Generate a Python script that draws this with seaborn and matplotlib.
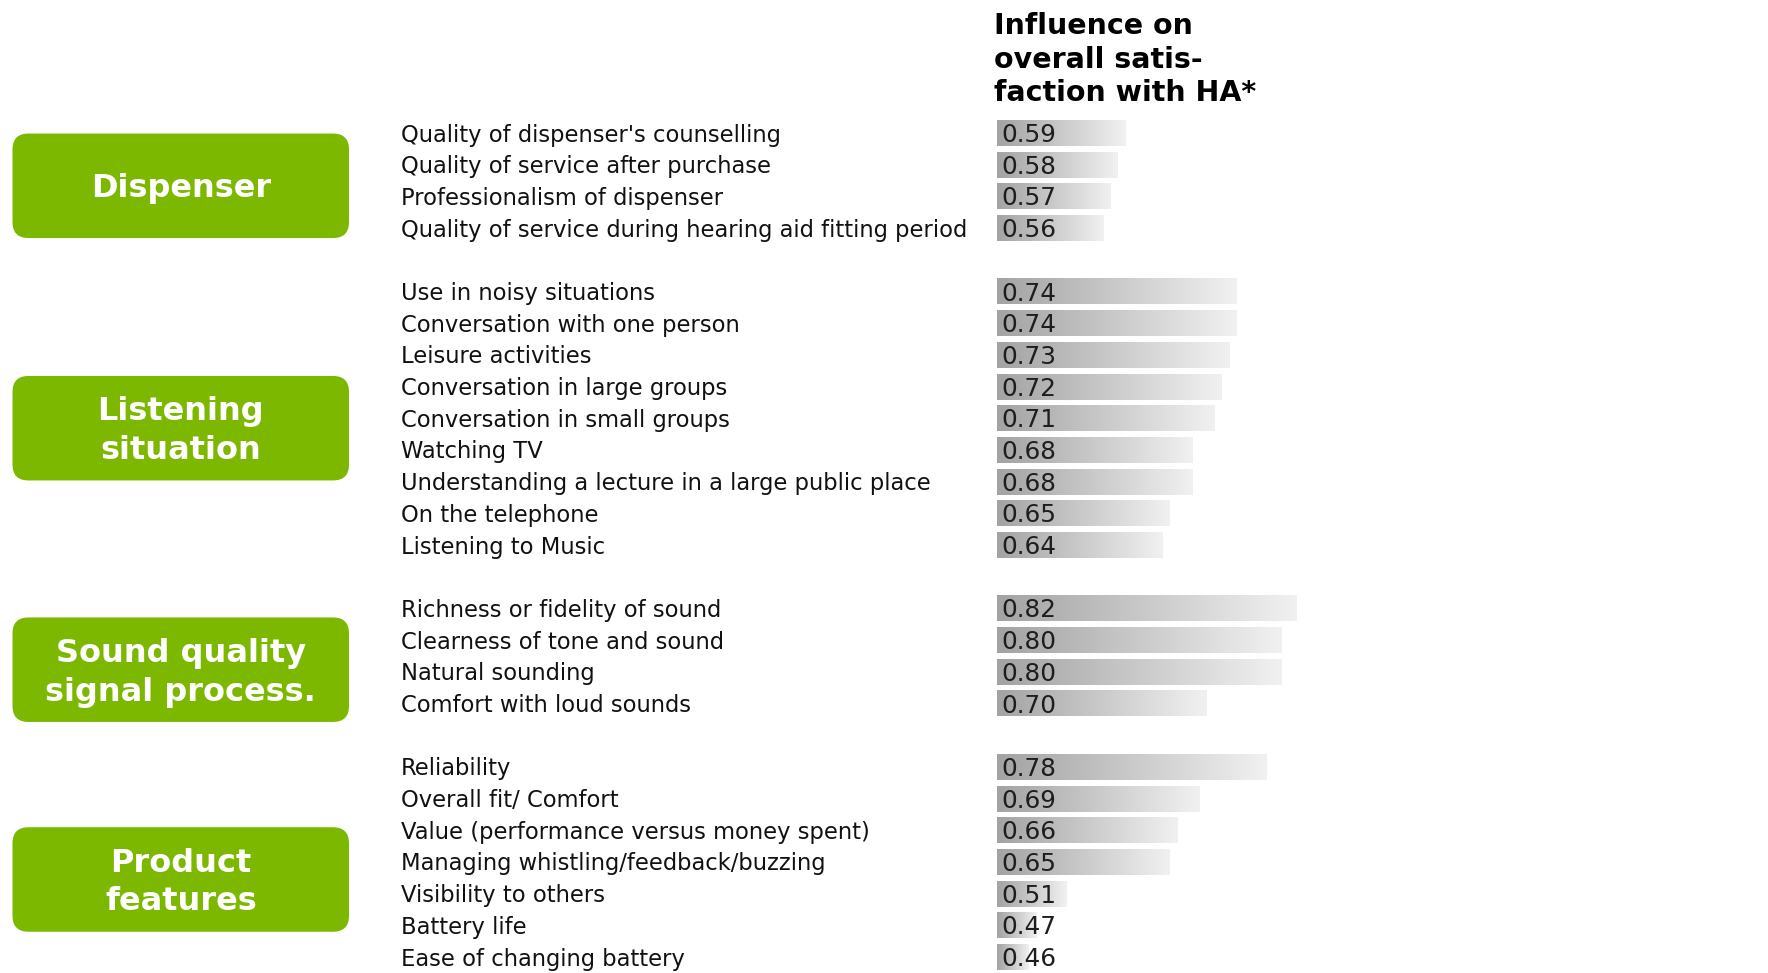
"""
Influence of single attributes on overall satisfaction with hearing aids
horizontal gradient bars grouped by category
"""

import numpy as np
import pandas as pd
import matplotlib
matplotlib.use('Agg')
import matplotlib.pyplot as plt
from matplotlib.colors import LinearSegmentedColormap
from matplotlib.patches import FancyBboxPatch
from matplotlib import transforms
import seaborn as sns

# ============================================
# DATA
# ============================================
groups = ['Dispenser', 'Listening\nsituation', 'Sound quality\nsignal process.', 'Product\nfeatures']

dispenser_items = ["Quality of dispenser's counselling",
                   "Quality of service after purchase",
                   "Professionalism of dispenser",
                   "Quality of service during hearing aid fitting period"]
dispenser_values = [0.59, 0.58, 0.57, 0.56]

listening_items = ["Use in noisy situations",
                   "Conversation with one person",
                   "Leisure activities",
                   "Conversation in large groups",
                   "Conversation in small groups",
                   "Watching TV",
                   "Understanding a lecture in a large public place",
                   "On the telephone",
                   "Listening to Music"]
listening_values = [0.74, 0.74, 0.73, 0.72, 0.71, 0.68, 0.68, 0.65, 0.64]

sound_items = ["Richness or fidelity of sound",
               "Clearness of tone and sound",
               "Natural sounding",
               "Comfort with loud sounds"]
sound_values = [0.82, 0.80, 0.80, 0.70]

product_items = ["Reliability",
                 "Overall fit/ Comfort",
                 "Value (performance versus money spent)",
                 "Managing whistling/feedback/buzzing",
                 "Visibility to others",
                 "Battery life",
                 "Ease of changing battery"]
product_values = [0.78, 0.69, 0.66, 0.65, 0.51, 0.47, 0.46]

header = "Influence on\noverall satis-\nfaction with HA*"

# build table, one empty slot between groups
rows = []
slot = 0
group_slots = []
for g, items, vals in zip(groups,
                          [dispenser_items, listening_items, sound_items, product_items],
                          [dispenser_values, listening_values, sound_values, product_values]):
    first = slot
    for it, v in zip(items, vals):
        rows.append({'group': g, 'item': it, 'value': v, 'slot': slot})
        slot += 1
    group_slots.append((first, slot - 1))
    slot += 1
df = pd.DataFrame(rows)

# ============================================
# LAYOUT (pixels)
# ============================================
W, H = 1768, 973
x_left_px = 997
row_step = 31.69
first_row_px = 133.5
y_top_px = first_row_px - row_step / 2
y_bot_px = first_row_px + (df['slot'].max() + 0.5) * row_step
px_per_unit = 742.0
x_min = 0.417
x_max = x_min + (W - x_left_px) / px_per_unit

green = '#7cb800'
bar_cmap = LinearSegmentedColormap.from_list('bargrad', ['#a3a3a3', '#f1f1f1'])

sns.set_theme(style='white')
plt.rcParams['font.family'] = ['DejaVu Sans']

fig = plt.figure(figsize=(W / 100, H / 100), dpi=100)
fig.patch.set_facecolor('white')

# background axes in pixel units for labels and boxes
bg = fig.add_axes([0, 0, 1, 1])
bg.set_xlim(0, W)
bg.set_ylim(H, 0)
bg.axis('off')

ax = fig.add_axes([x_left_px / W, (H - y_bot_px) / H,
                   1 - x_left_px / W, (y_bot_px - y_top_px) / H])
ax.patch.set_alpha(0)

sns.barplot(data=df, x='value', y='slot', orient='h', native_scale=True,
            width=0.79, color='#cccccc', ax=ax)
ax.set_xlim(x_min, x_max)
ax.set_ylim(df['slot'].max() + 0.5, -0.5)

# gradient fill per bar
grad = np.linspace(0, 1, 256).reshape(1, -1)
for p in list(ax.patches):
    y0 = p.get_y()
    h = p.get_height()
    x1 = p.get_x() + p.get_width()
    p.set_visible(False)
    ax.imshow(grad, extent=[x_min, x1, y0 + h, y0], cmap=bar_cmap,
              aspect='auto', interpolation='bicubic', zorder=2)
ax.set_xlim(x_min, x_max)
ax.set_ylim(df['slot'].max() + 0.5, -0.5)
ax.axis('off')

# value labels and item labels
lbl_tr = transforms.blended_transform_factory(bg.transData, ax.transData)
for _, r in df.iterrows():
    ax.text(x_min + 4 / px_per_unit, r['slot'] + 0.05, f"{r['value']:.2f}",
            va='center', ha='left', fontsize=17.8, color='#1e1e1e', zorder=3)
    bg.text(401, r['slot'] + 0.05, r['item'], transform=lbl_tr,
            va='center', ha='left', fontsize=16.3, color='#111111')

# header
bg.text(994, 12, header, va='top', ha='left', fontsize=20.5, fontweight='bold',
        color='black', linespacing=1.25)

# green category boxes
box_shift = [0.15, 0.30, 0.42, 0.54]
box_w, box_h = 336.5, 104.5
for g, (a, b), s in zip(groups, group_slots, box_shift):
    cy = first_row_px + ((a + b) / 2 + s) * row_step
    box = FancyBboxPatch((12.5, cy - box_h / 2), box_w, box_h,
                         boxstyle='round,pad=0,rounding_size=16',
                         facecolor=green, edgecolor='none')
    bg.add_patch(box)
    bg.text(12.5 + box_w / 2, cy + 3, g, ha='center', va='center', fontsize=23,
            fontweight='bold', color='white', linespacing=1.32)

fig.savefig('out.png', dpi=100, facecolor='white')
